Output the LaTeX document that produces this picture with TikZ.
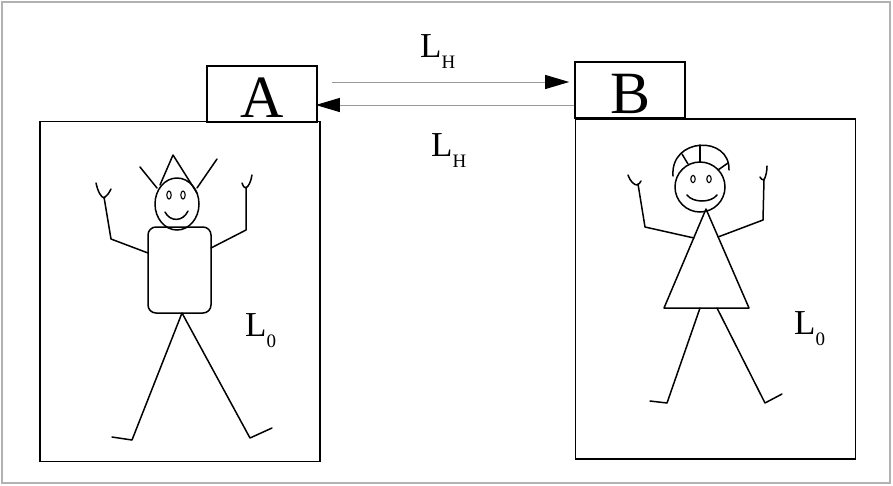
\documentclass[tikz,border=0pt]{standalone}
\usepackage{fontspec}
\setmainfont{Liberation Serif}
\usepackage{tikz}
\usetikzlibrary{arrows.meta, positioning, calc}

\newcommand{\Lsub}[1]{L\raisebox{-11pt}{\fontsize{19}{19}\selectfont #1}}

\begin{document}
\begin{tikzpicture}[
    x=1pt, y=-1pt,
    room/.style={rectangle, draw, line width=1.6pt, minimum width=280pt, minimum height=340pt, inner sep=0pt},
    door/.style={rectangle, draw, line width=1.6pt, minimum width=110pt, minimum height=56pt, inner sep=0pt, font=\fontsize{60}{60}\selectfont, text height=46pt, text depth=0pt},
    level/.style={anchor=base west, inner sep=0pt, font=\fontsize{35}{35}\selectfont},
    link/.style={draw=gray!80, line width=1pt, -{Triangle[length=24pt, width=14pt, black]}},
    stick/.style={line width=1.5pt, line cap=round, line join=round},
    eye/.style={line width=1.1pt}
]
\path[use as bounding box] (0,0) rectangle (893,485);
\draw[gray!60, line width=1.5pt] (2,2) rectangle (890,483);

\node[room] (roomA) at (180,291.5) {};
\node[room] (roomB) at (715.5,289) {};
\node[door] (tabA) at (262,94) {A};
\node[door] (tabB) at (630,90) {B};

\coordinate (upper) at (332,82);
\coordinate (lower) at (0,105);
\draw[link, shorten >=5pt] (upper) -- (upper -| tabB.west);
\draw[link, shorten >=-2pt] (tabB.west |- lower) -- (tabA.east |- lower);

\node[level] (lhTop) at (420,57) {\Lsub{H}};
\node[level] (lhBot) at (431,156) {\Lsub{H}};
\node[level] (loA) at (245,336) {\Lsub{0}};
\node[level] (loB) at (794,334) {\Lsub{0}};

% man in room A
\draw[stick] (177,204) ellipse [x radius=22, y radius=26];
\draw[eye] (169,195) ellipse [x radius=2.2, y radius=4];
\draw[eye] (183,195) ellipse [x radius=2.2, y radius=4];
\draw[stick] (165,212) .. controls (170,222) and (183,222) .. (188,211);
\draw[stick] (160,185) -- (173,155) -- (197,193);
\draw[stick] (140,167) -- (157,188);
\draw[stick] (217,159) -- (197,188);
\draw[stick, rounded corners=8pt] (148,227) rectangle (211,313);
\draw[stick] (148,253) -- (111,239) -- (104,197);
\draw[stick] (96,183) .. controls (98,192) and (101,197) .. (104,198) .. controls (107,196) and (109,193) .. (111,189);
\draw[stick] (211,248) -- (246,230) -- (246,187);
\draw[stick] (242,183) .. controls (243,186) and (244,188) .. (246,188) .. controls (249,186) and (251,181) .. (252,175);
\draw[stick] (112,437) -- (132,440) -- (182,313) -- (250,438) -- (272,428);

% woman in room B
\draw[stick] (700,187) circle [radius=25];
\draw[stick] (673,176) .. controls (670,137) and (730,135) .. (729,170);
\draw[stick] (700,145) -- (700,162);
\draw[stick] (682,154) -- (688,164);
\draw[stick] (718,170) -- (728,163);
\draw[eye] (693,179) ellipse [x radius=2.2, y radius=3.6];
\draw[eye] (709,179) ellipse [x radius=2.2, y radius=3.6];
\draw[stick] (687,195) .. controls (693,203) and (711,203) .. (717,195);
\draw[stick] (706,209) -- (664,308) -- (749,308) -- cycle;
\draw[stick] (694,238) -- (645,227) -- (638,184);
\draw[stick] (628,175) .. controls (630,181) and (634,185) .. (637,185) .. controls (639,184) and (640,183) .. (641,181);
\draw[stick] (718,237) -- (763,220) -- (764,179);
\draw[stick] (760,177) .. controls (761,179) and (762,180) .. (764,180) .. controls (766,176) and (767,171) .. (767,166);
\draw[stick] (650,401) -- (667,403) -- (700,308);
\draw[stick] (717,308) -- (765,403) -- (782,394);
\end{tikzpicture}
\end{document}
